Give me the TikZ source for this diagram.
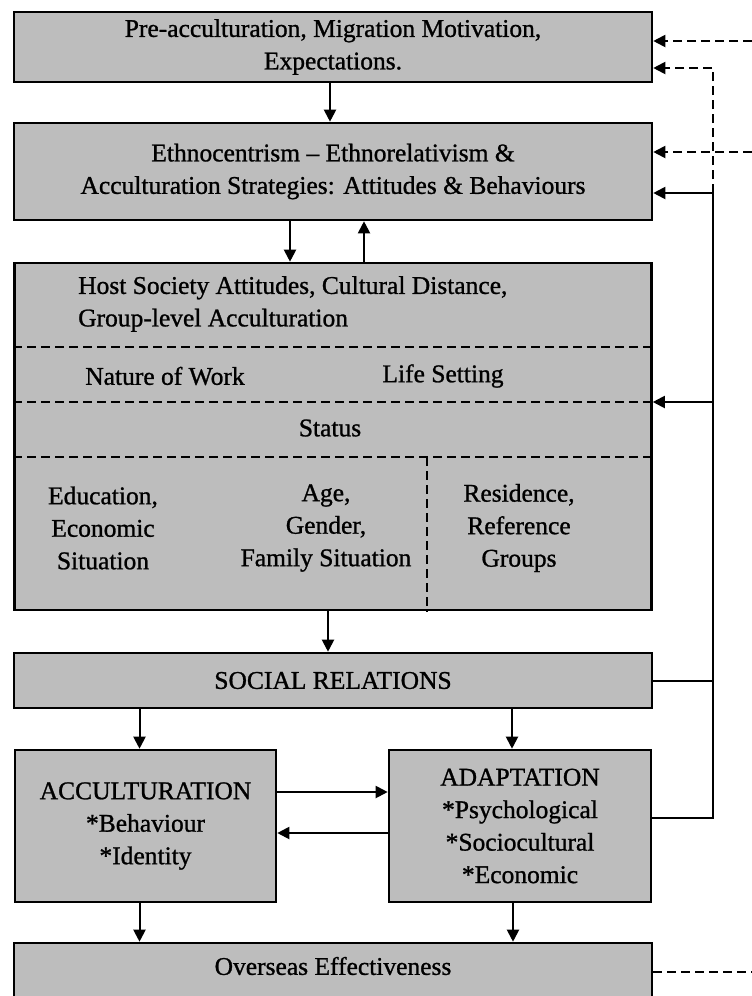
\documentclass[tikz,border=0pt]{standalone}
\usepackage{fontspec}
\setmainfont[FakeBold=1]{Liberation Serif}
\usetikzlibrary{arrows.meta}
\begin{document}
\begin{tikzpicture}[x=1pt,y=-1pt,
  box/.style={draw=black, line width=2.6pt, fill=black!26, inner sep=0pt, align=center,
              font=\fontsize{25.5}{32.5}\selectfont},
  txt/.style={align=center, inner sep=0pt, font=\fontsize{25.5}{32.5}\selectfont},
  conn/.style={line width=2pt},
  tip/.style={-{Triangle[length=12pt,width=12pt]}},
  arr/.style={conn, tip},
  dconn/.style={conn, dash pattern=on 9pt off 5pt},
  darr/.style={dconn, tip},
  divider/.style={line width=2pt, dash pattern=on 9pt off 5pt}]
\useasboundingbox (0,0) rectangle (752,996);
\clip (0,0) rectangle (752,996);
\fill[white] (0,0) rectangle (752,996);

% right-hand rails
\coordinate (rail) at (713,0);
\coordinate (edge) at (752,0);

% boxes
\node[box, minimum width=638pt, minimum height=70pt] (pre) at (333,47)
  {Pre-acculturation, Migration Motivation,\\Expectations.};
\node[box, minimum width=638pt, minimum height=97pt] (eth) at (333,171.5)
  {Ethnocentrism -- Ethnorelativism \&\\Acculturation Strategies: Attitudes \& Behaviours};
\node[box, minimum width=637pt, minimum height=347pt] (host) at (333,436.5) {};
\node[box, minimum width=638pt, minimum height=55pt] (social) at (333,680.5) {SOCIAL RELATIONS};
\node[box, minimum width=261pt, minimum height=152pt] (acc) at (145.5,826)
  {ACCULTURATION\\*Behaviour\\*Identity};
\node[box, minimum width=262pt, minimum height=152pt] (adapt) at (520,826)
  {ADAPTATION\\*Psychological\\*Sociocultural\\*Economic};
\node[box, minimum width=638pt, minimum height=70pt] (over) at (333,978) {};
\node[txt] (overtxt) at (333,966) {Overseas Effectiveness};

% compartments of the central box
\draw[divider] ([yshift=89.5pt]host.west) -- ([yshift=89.5pt]host.east);
\draw[divider] ([yshift=34.5pt]host.west) -- ([yshift=34.5pt]host.east);
\draw[divider] ([yshift=-20.5pt]host.west) -- ([yshift=-20.5pt]host.east);
\draw[divider] ([xshift=94pt,yshift=-20.5pt]host.center) -- ([xshift=94pt]host.south);

\node[txt, align=left, anchor=west] (hsa) at (78,304)
  {Host Society Attitudes, Cultural Distance,\\Group-level Acculturation};
\node[txt] (work) at (165,376) {Nature of Work};
\node[txt] (life) at (443,376) {Life Setting};
\node[txt] (status) at (330,428) {Status};
\node[txt] (edu) at (103,528) {Education,\\Economic\\Situation};
\node[txt] (age) at (326,528) {Age,\\Gender,\\Family Situation};
\node[txt] (res) at (519,528) {Residence,\\Reference\\Groups};

% main flow
\draw[arr] ([xshift=-3pt]pre.south) -- ([xshift=-3pt]eth.north);
\draw[arr] ([xshift=-43pt]eth.south) -- ([xshift=-43pt]host.north);
\draw[arr] ([xshift=31pt]host.north) -- ([xshift=31pt]eth.south);
\draw[arr] ([xshift=-5pt]host.south) -- ([xshift=-5pt]social.north);
\draw[arr] ([xshift=-6pt]acc.north |- social.south) -- ([xshift=-6pt]acc.north);
\draw[arr] ([xshift=-8pt]adapt.north |- social.south) -- ([xshift=-8pt]adapt.north);
\draw[arr] ([yshift=34pt]acc.east) -- ([yshift=34pt]adapt.west);
\draw[arr] ([yshift=-7pt]adapt.west) -- ([yshift=-7pt]acc.east);
\draw[arr] ([xshift=-6pt]acc.south) -- ([xshift=-6pt]acc.south |- over.north);
\draw[arr] ([xshift=-7pt]adapt.south) -- ([xshift=-7pt]adapt.south |- over.north);

% feedback loop on the right
\draw[conn] ([yshift=8pt]adapt.east) -- ([yshift=8pt]adapt.east -| rail)
  -- ([yshift=-21.5pt]eth.east -| rail);
\draw[conn] (social.east) -- (social.east -| rail);
\draw[arr] ([yshift=-21.5pt]eth.east -| rail) -- ([yshift=-21.5pt]eth.east);
\draw[arr] ([yshift=34.5pt]host.east -| rail) -- ([yshift=34.5pt]host.east);
\draw[darr] ([yshift=-21.5pt]eth.east -| rail) -- ([yshift=-21pt]pre.east -| rail)
  -- ([yshift=-21pt]pre.east);

% incoming dashed links from the far right
\draw[darr] ([yshift=6pt]pre.east -| edge) -- ([yshift=6pt]pre.east);
\draw[darr] ([yshift=19.5pt]eth.east -| edge) -- ([yshift=19.5pt]eth.east);
\draw[dconn] ([yshift=6pt]over.east) -- ([yshift=6pt]over.east -| edge);
\end{tikzpicture}
\end{document}
